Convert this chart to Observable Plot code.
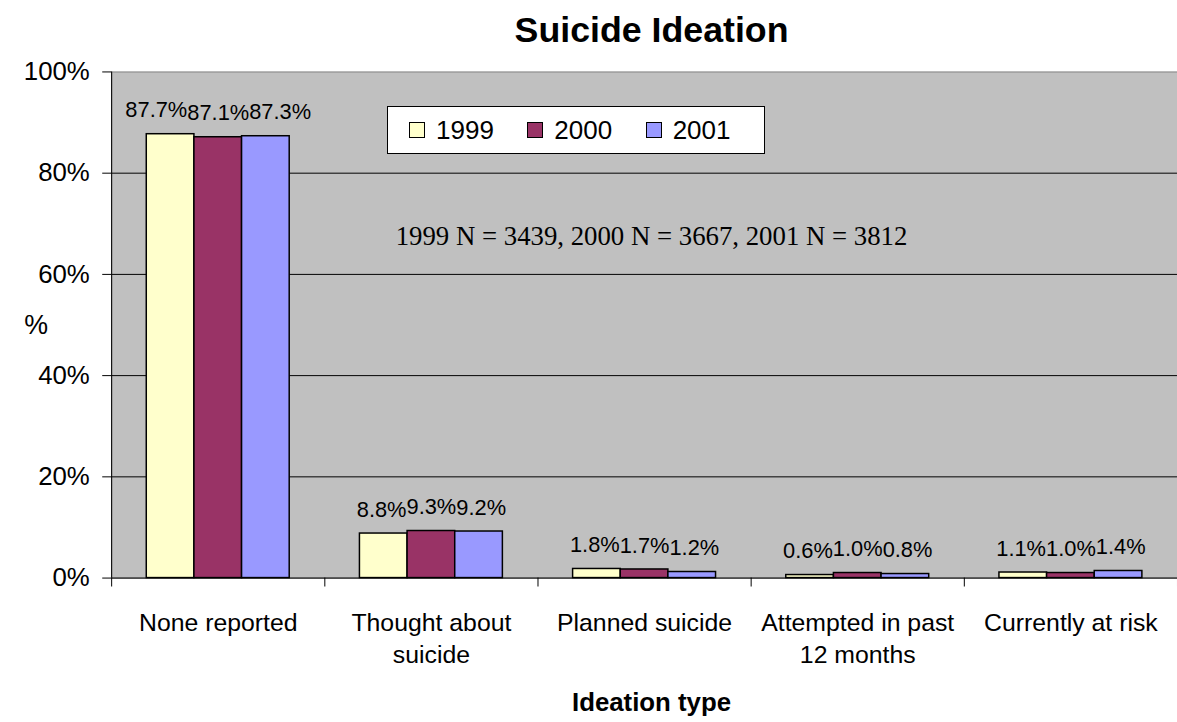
<!DOCTYPE html>
<html>
<head>
<meta charset="utf-8">
<script src="https://cdn.jsdelivr.net/npm/d3@7"></script>
<script src="https://cdn.jsdelivr.net/npm/@observablehq/plot@0.6"></script>
<style>
  html, body { margin: 0; padding: 0; background: #fff; overflow: hidden; }
  #wrap { position: relative; width: 1177px; height: 722px; overflow: hidden; }
  #legend {
    position: absolute; left: 387px; top: 106px; width: 378px; height: 48px;
    box-sizing: border-box; background: #fff; border: 1px solid #000;
    display: flex; align-items: center; padding-left: 21px;
    font-family: "Liberation Sans", Arial, sans-serif; font-size: 26px; color: #000;
  }
  #legend .item { display: flex; align-items: center; width: 126.5px; }
  #legend .sw { width: 16px; height: 16px; box-sizing: border-box; border: 1px solid #000; margin-right: 11px; }
</style>
</head>
<body>
<div id="wrap"></div>
<script>
// Ideation categories (line breaks follow the axis labels)
const categories = ["None reported", "Thought about\nsuicide", "Planned suicide", "Attempted in past\n12 months", "Currently at risk"];
// Survey years and their colours
const years = ["1999", "2000", "2001"];
const yearColors = ["#FFFFCC", "#993366", "#9999FF"];
// Percentage of respondents per category, one array per year
const values1999 = [87.7, 8.8, 1.8, 0.6, 1.1];
const values2000 = [87.1, 9.3, 1.7, 1.0, 1.0];
const values2001 = [87.3, 9.2, 1.2, 0.8, 1.4];
// Value-axis ticks
const yTicks = [0, 20, 40, 60, 80, 100];
const titleText = "Suicide Ideation";
const noteText = "1999 N = 3439, 2000 N = 3667, 2001 N = 3812";
const xTitle = "Ideation type";
const yTitle = "%";

const width = 1186, height = 722;
const marginLeft = 112, marginRight = 0, marginTop = 72, marginBottom = 140;
const pxPerCat = (width - marginLeft - marginRight) / categories.length;

// Position of each year's bar inside a category slot
const inner = d3.scaleBand().domain(years).range([0, 1]).paddingInner(0).paddingOuter(0.737);

const series = [values1999, values2000, values2001];
const rows = [];
categories.forEach((cat, i) => {
  years.forEach((yr, j) => {
    const x1 = i + inner(yr);
    rows.push({cat: i, year: yr, j, value: series[j][i], x1, x2: x1 + inner.bandwidth()});
  });
});

// Spread value labels apart when they are wider than the bars
const labelFont = '22px "Liberation Sans", Arial, sans-serif';
const ctx = document.createElement("canvas").getContext("2d");
ctx.font = labelFont;
const fmt = v => v.toFixed(1) + "%";
const barPx = inner.bandwidth() * pxPerCat;
categories.forEach((cat, i) => {
  const group = rows.filter(r => r.cat === i);
  const widest = d3.max(group, r => ctx.measureText(fmt(r.value)).width);
  const step = Math.max(barPx, widest) / pxPerCat;
  const center = i + 0.5 * (inner(years[0]) + inner(years[years.length - 1]) + inner.bandwidth());
  group.forEach(r => { r.lx = center + (r.j - 1) * step; });
});

const sans = '"Liberation Sans", Arial, sans-serif';
const plotCenterShift = 656 - (marginLeft + (width - marginLeft - marginRight) / 2);

const chart = Plot.plot({
  width, height, marginLeft, marginRight, marginTop, marginBottom,
  style: {fontFamily: sans, background: "transparent", color: "#000", overflow: "visible"},
  x: {domain: [0, categories.length], axis: null},
  y: {domain: [0, 100], axis: null},
  color: {domain: years, range: yearColors},
  marks: [
    Plot.frame({fill: "#C0C0C0", stroke: "#808080"}),
    Plot.ruleY(yTicks.filter(d => d > 0 && d < 100), {stroke: "#000", strokeWidth: 1}),
    Plot.rect(rows, {x1: "x1", x2: "x2", y1: () => 0, y2: "value", fill: "year", stroke: "#000", strokeWidth: 1.5}),
    Plot.ruleX([0], {stroke: "#000"}),
    Plot.ruleY([0], {stroke: "#000"}),
    Plot.axisY({ticks: yTicks, tickSize: 9, tickPadding: 13, tickFormat: d => d + "%", fontSize: 26, label: null}),
    Plot.axisX({ticks: d3.range(categories.length + 1), tickSize: 9, tickFormat: () => "", label: null}),
    Plot.text(rows, {x: "lx", y: "value", text: d => fmt(d.value), dy: -24, lineAnchor: "middle", fontSize: 22, fill: "#000"}),
    Plot.text(categories, {x: (d, i) => i + 0.5, y: () => 0, text: d => d, lineAnchor: "top", dy: 31, fontSize: 25, lineHeight: 1.28, fill: "#000"}),
    Plot.text([titleText], {frameAnchor: "top", dx: plotCenterShift, dy: -42, lineAnchor: "middle", fontSize: 36, fontWeight: "bold", fill: "#000"}),
    Plot.text([noteText], {frameAnchor: "top", dx: plotCenterShift, dy: 166, lineAnchor: "middle", fontSize: 27, fontFamily: '"Liberation Serif", "Times New Roman", serif', fill: "#000"}),
    Plot.text([xTitle], {frameAnchor: "bottom", dx: plotCenterShift, dy: 126, lineAnchor: "middle", fontSize: 26, fontWeight: "bold", fill: "#000"}),
    Plot.text([yTitle], {frameAnchor: "left", dx: 24 - marginLeft, lineAnchor: "middle", fontSize: 27, fill: "#000"})
  ]
});

const wrap = document.getElementById("wrap");
wrap.appendChild(chart);

// Legend box inside the plot area
const legend = document.createElement("div");
legend.id = "legend";
years.forEach((yr, j) => {
  const item = document.createElement("div");
  item.className = "item";
  const sw = document.createElement("span");
  sw.className = "sw";
  sw.style.background = yearColors[j];
  const label = document.createElement("span");
  label.textContent = yr;
  item.appendChild(sw);
  item.appendChild(label);
  legend.appendChild(item);
});
wrap.appendChild(legend);
</script>
</body>
</html>
